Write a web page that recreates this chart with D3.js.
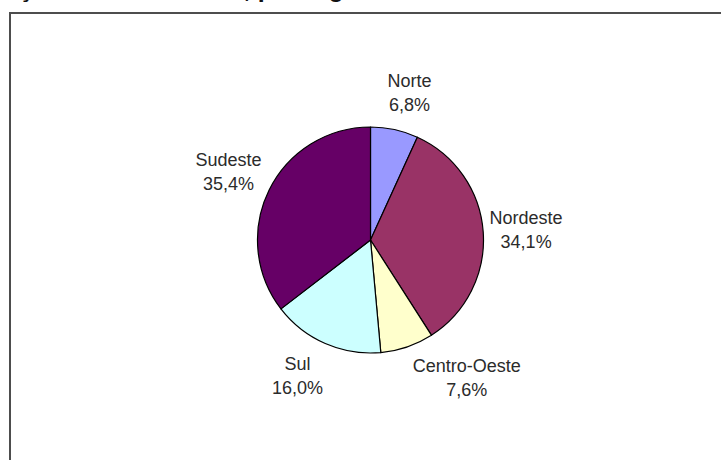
<!DOCTYPE html>
<html>
<head>
<meta charset="utf-8">
<script src="https://cdn.jsdelivr.net/npm/d3@7"></script>
<style>
  body { margin: 0; background: #fff; }
  svg { display: block; }
</style>
</head>
<body>
<div id="chart"></div>
<script>
// data
var regions = ["Norte", "Nordeste", "Centro-Oeste", "Sul", "Sudeste"];
var shares = [6.8, 34.1, 7.6, 16.0, 35.4];
var sliceColors = ["#9999ff", "#993366", "#ffffcc", "#ccffff", "#660066"];

// dimensions
var width = 721;
var height = 460;
var cx = 370.5;
var cy = 240;
var radius = 113;
var labelRadius = 155;

// label nudges (excel-ish placement)
var nudge = {
    "Norte": [6, 4],
    "Nordeste": [1, 0],
    "Centro-Oeste": [46, -9],
    "Sul": [-11, -7],
    "Sudeste": [-3, 0]
};

var dataset = regions.map(function(r, i) {
    return { label: r, value: shares[i], color: sliceColors[i] };
});

var svg = d3.select("#chart")
    .append("svg")
    .attr("width", width)
    .attr("height", height);

// title, cut off at the top of the picture
svg.append("text")
    .attr("x", 380)
    .attr("y", -3)
    .attr("text-anchor", "end")
    .attr("font-family", "'Liberation Sans', Arial, sans-serif")
    .attr("font-weight", "bold")
    .attr("font-size", 25)
    .attr("fill", "#111")
    .text("Distribuição das matrículas, por região");

// frame
svg.append("rect")
    .attr("x", 10)
    .attr("y", 13)
    .attr("width", 800)
    .attr("height", 600)
    .attr("fill", "none")
    .attr("stroke", "#4d4d4d")
    .attr("stroke-width", 2);

var g = svg.append("g")
    .attr("transform", "translate(" + cx + "," + cy + ")");

var pie = d3.pie()
    .value(function(d) { return d.value; })
    .sort(null);

var arc = d3.arc()
    .innerRadius(0)
    .outerRadius(radius);

var labelArc = d3.arc()
    .innerRadius(labelRadius)
    .outerRadius(labelRadius);

var arcs = pie(dataset);

g.selectAll("path")
    .data(arcs)
    .enter()
    .append("path")
    .attr("d", arc)
    .attr("fill", function(d) { return d.data.color; })
    .attr("stroke", "#000")
    .attr("stroke-width", 1.2)
    .attr("stroke-linejoin", "round");

var fmt = function(v) { return d3.format(".1f")(v).replace(".", ",") + "%"; };

var labels = g.selectAll("g.lbl")
    .data(arcs)
    .enter()
    .append("g")
    .attr("class", "lbl")
    .attr("transform", function(d) {
        var c = labelArc.centroid(d);
        var n = nudge[d.data.label];
        return "translate(" + (c[0] + n[0]) + "," + (c[1] + n[1]) + ")";
    });

labels.append("text")
    .attr("y", -5.5)
    .attr("text-anchor", "middle")
    .attr("font-family", "'Liberation Sans', Arial, sans-serif")
    .attr("font-size", 18)
    .attr("fill", "#2b2b2b")
    .text(function(d) { return d.data.label; });

labels.append("text")
    .attr("y", 18.5)
    .attr("text-anchor", "middle")
    .attr("font-family", "'Liberation Sans', Arial, sans-serif")
    .attr("font-size", 18)
    .attr("fill", "#2b2b2b")
    .text(function(d) { return fmt(d.data.value); });
</script>
</body>
</html>
